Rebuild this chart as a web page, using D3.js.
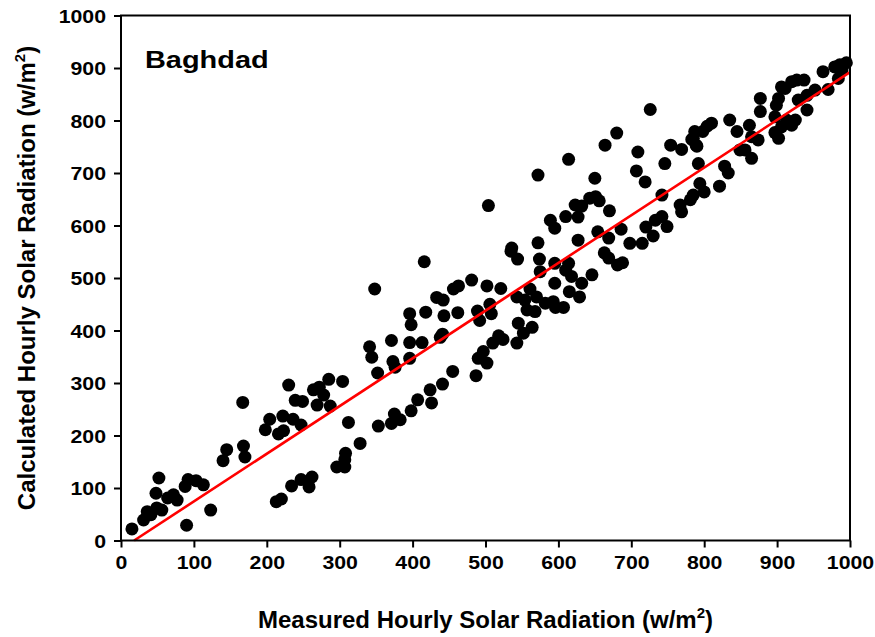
<!DOCTYPE html>
<html><head><meta charset="utf-8">
<script src="https://cdn.jsdelivr.net/npm/d3@7"></script>
<style>html,body{margin:0;padding:0;background:#fff;}svg{display:block;font-family:"Liberation Sans",Arial,sans-serif;}</style>
</head><body>
<svg id="chart" width="875" height="637"></svg>
<script>
const measured = [15,31,36,41,49,56,48,52,64,72,77,90,88,92,103,113,123,140,145,167,168,170,198,204,216,222,223,236,247,230,239,249,213,220,234,247,258,262,269,264,272,278,285,287,304,312,296,308,307,307,328,
416,348,341,344,371,373,376,352,396,398,396,396,413,418,433,442,443,438,441,456,463,481,462,502,521,489,492,506,508,455,487,441,424,426,407,398,375,383,371,353,490,497,502,510,518,524,543,545,552,564,543,554,561,557,568,570,582,593,595,575,574,544,535,595,596,
504,572,614,664,709,707,719,746,754,769,783,789,792,828,833,821,794,800,785,781,767,769,742,749,742,733,730,720,715,698,686,669,688,681,669,663,654,670,650,643,651,656,632,623,627,610,589,595,627,572,536,614,610,618,632,629,615,607,646,680,726,
995,986,979,989,984,970,963,952,941,941,927,937,920,929,906,902,899,911,897,925,920,913,906,897,902,877,877,862,835,845,865,874,849,856,865,810,804,798,787,785,790];
const calculated = [22,39,55,49,62,58,90,119,81,87,77,29,103,116,114,106,58,152,173,263,180,159,211,231,203,237,209,231,220,296,267,265,74,79,104,116,102,121,258,287,292,277,307,256,303,225,140,166,154,140,185,
531,479,369,349,381,341,330,319,432,411,377,347,377,435,463,458,428,387,393,479,485,496,434,485,480,437,419,450,432,322,314,298,287,262,268,247,241,230,223,218,347,360,338,376,390,383,376,414,395,406,464,458,479,439,436,464,452,455,490,512,536,536,551,528,444,
638,696,726,753,740,704,683,718,753,745,764,753,718,713,700,675,680,664,658,649,639,626,658,598,617,610,580,597,566,566,593,576,529,525,538,548,588,628,690,652,655,647,637,639,616,617,610,595,572,567,557,528,515,503,490,464,474,444,506,776,821,
910,906,902,896,880,859,893,858,848,820,877,877,874,839,864,842,829,861,807,801,791,801,788,777,766,842,817,791,801,779,769,763,744,744,728,795,789,779,779,766,751];
const fitX = [18, 1000];
const fitY = [0, 892];
const tickValues = [0,100,200,300,400,500,600,700,800,900,1000];
const siteLabel = "Baghdad";
const xTitle = "Measured Hourly Solar Radiation (w/m";
const yTitle = "Calculated Hourly Solar Radiation (w/m";

const svg = d3.select("#chart");
const L = 121, R = 850, T = 15.5, B = 540.5;
const x = d3.scaleLinear().domain([0,1000]).range([L,R]);
const y = d3.scaleLinear().domain([0,1000]).range([B,T]);

// dots
svg.append("g").selectAll("circle").data(measured.map((m,i)=>[m,calculated[i]]))
  .join("circle").attr("cx",d=>x(d[0])).attr("cy",d=>y(d[1])).attr("r",6.5).attr("fill","#000");

// fit line
svg.append("line").attr("x1",x(fitX[0])).attr("y1",y(fitY[0])).attr("x2",x(fitX[1])).attr("y2",y(fitY[1]))
  .attr("stroke","#ff0000").attr("stroke-width",2.6);

// frame
svg.append("rect").attr("x",L).attr("y",T).attr("width",R-L).attr("height",B-T)
  .attr("fill","none").attr("stroke","#000").attr("stroke-width",2);

// axes
const xAxis = svg.append("g").attr("transform",`translate(0,${B})`)
  .call(d3.axisBottom(x).tickValues(tickValues).tickSize(7).tickPadding(8).tickFormat(d3.format("d")));
const yAxis = svg.append("g").attr("transform",`translate(${L},0)`)
  .call(d3.axisLeft(y).tickValues(tickValues).tickSize(7).tickPadding(8).tickFormat(d3.format("d")));
[xAxis,yAxis].forEach(a=>{
  a.select(".domain").remove();
  a.selectAll(".tick line").attr("stroke","#000").attr("stroke-width",2);
  a.selectAll(".tick text").attr("fill","#000").attr("font-size",19).attr("font-weight","bold")
   .attr("font-family",'"Liberation Sans",Arial,sans-serif');
});
xAxis.selectAll(".tick text").attr("dy","0.71em").attr("x",0).attr("transform","scale(1.12,1)");
yAxis.selectAll(".tick text").attr("transform","translate(-15,0) scale(1.12,1)").attr("x",0).attr("dy","0.35em");

// site label
svg.append("text").attr("transform","translate(145,68) scale(1.18,1)")
  .attr("font-size",24.5).attr("font-weight","bold").attr("fill","#000").text(siteLabel);

// x title
const xt = svg.append("text").attr("x",(L+R)/2).attr("y",628).attr("text-anchor","middle")
  .attr("font-size",24).attr("font-weight","bold").attr("fill","#000");
xt.append("tspan").text(xTitle);
xt.append("tspan").attr("font-size",15).attr("dy",-10).text("2");
xt.append("tspan").attr("dy",10).text(")");

// y title
const yt = svg.append("text").attr("transform",`translate(35,${(T+B)/2}) rotate(-90)`).attr("text-anchor","middle")
  .attr("font-size",24).attr("font-weight","bold").attr("fill","#000");
yt.append("tspan").text(yTitle);
yt.append("tspan").attr("font-size",15).attr("dy",-10).text("2");
yt.append("tspan").attr("dy",10).text(")");
</script>
</body></html>
